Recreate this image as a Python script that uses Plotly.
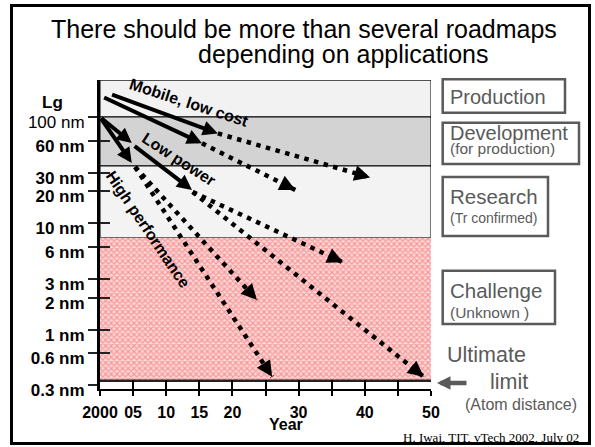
import math
import plotly.graph_objects as go

# ---------------- data ----------------
band_names = ["Production", "Development", "Research", "Challenge"]
band_top_nm = [222, 100, 34.6, 7.3]
band_bottom_nm = [100, 34.6, 7.3, 0.33]
band_fill = ["#f2f2f2", "#d3d3d3", "#f3f3f3", None]

ultimate_limit_nm = 0.33
year_range = [2000, 2050]
lg_range_log = [-0.559, 2.348]

y_tick_nm = [100, 60, 30, 20, 10, 6, 3, 2, 1, 0.6, 0.3]
y_tick_text = ["100 nm", "60 nm", "30 nm", "20 nm", "10 nm", "6 nm",
               "3 nm", "2 nm", "1 nm", "0.6 nm", "0.3 nm"]
y_tick_bold = [False, True, True, True, True, True, True, True, True, True, True]
y_inner_tick_nm = [60, 30, 20, 10, 6, 3, 2, 1, 0.6]

x_tick_years = [2000, 2005, 2010, 2015, 2020, 2025, 2030, 2035, 2040, 2045, 2050]
x_label_years = [2000, 2005, 2010, 2015, 2020, 2030, 2040, 2050]
x_label_text = ["2000", "05", "10", "15", "20", "30", "40", "50"]

# solid (established) roadmap arrows: [start_year, end_year], [start_nm, end_nm]
mobile_cost_years = [2001.6, 2017.8]
mobile_cost_nm = [164, 70]
mobile_years = [2000.4, 2015.4]
mobile_nm = [155, 56.6]
lowpower_start_years = [2000, 2004.8]
lowpower_start_nm = [100, 57]
highperf_start_years = [2000, 2004.8]
highperf_start_nm = [100, 37]
lowpower_years = [2005.0, 2013.9]
lowpower_nm = [54.6, 20.6]

# dotted (projected) roadmap arrows
mobile_cost_proj_years = [2017.8, 2040.8]
mobile_cost_proj_nm = [70, 27]
mobile_proj_years = [2015.4, 2029.5]
mobile_proj_nm = [56.6, 20.6]
lowpower_proj1_years = [2014.0, 2036.7]
lowpower_proj1_nm = [19.7, 4.3]
lowpower_proj2_years = [2014.0, 2048.9]
lowpower_proj2_nm = [19.7, 0.36]
highperf_proj1_years = [2005.3, 2023.7]
highperf_proj1_nm = [33.9, 1.9]
highperf_proj2_years = [2005.3, 2026.0]
highperf_proj2_nm = [33.9, 0.36]

solid_arrows = [
    (mobile_cost_years, mobile_cost_nm),
    (mobile_years, mobile_nm),
    (lowpower_start_years, lowpower_start_nm),
    (highperf_start_years, highperf_start_nm),
    (lowpower_years, lowpower_nm),
]
dotted_arrows = [
    (mobile_cost_proj_years, mobile_cost_proj_nm),
    (mobile_proj_years, mobile_proj_nm),
    (lowpower_proj1_years, lowpower_proj1_nm),
    (lowpower_proj2_years, lowpower_proj2_nm),
    (highperf_proj1_years, highperf_proj1_nm),
    (highperf_proj2_years, highperf_proj2_nm),
]

# ---------------- layout geometry ----------------
W, H = 595, 447
ML, MR, MT, MB = 100, 164, 80, 58
PW = W - ML - MR
PH = H - MT - MB
FONT = "Liberation Sans, Arial, sans-serif"
GRAY = "#5a5a5a"


def paper(px, py):
    return (px - ML) / PW, (H - MB - py) / PH


fig = go.Figure()

# bands
for name, top, bot, col in zip(band_names, band_top_nm, band_bottom_nm, band_fill):
    xs = [year_range[0], year_range[1], year_range[1], year_range[0], year_range[0]]
    ys = [top, top, bot, bot, top]
    if col is None:
        fig.add_trace(go.Scatter(
            x=xs, y=ys, mode="lines", fill="toself",
            fillcolor="#fcc4c4",
            fillpattern=dict(shape="x", fgcolor="#e85a5a", bgcolor="#ffd6d6",
                             size=4, solidity=0.5),
            line=dict(width=0), hoverinfo="skip", name=name))
    else:
        fig.add_trace(go.Scatter(
            x=xs, y=ys, mode="lines", fill="toself", fillcolor=col,
            line=dict(color="black", width=1), hoverinfo="skip", name=name))

# ultimate limit line
fig.add_trace(go.Scatter(x=year_range, y=[ultimate_limit_nm] * 2, mode="lines",
                         line=dict(color="#222222", width=2.5), hoverinfo="skip"))

# dotted projection lines
for yrs, nm in dotted_arrows:
    fig.add_trace(go.Scatter(x=yrs, y=nm, mode="lines",
                             line=dict(color="black", width=4.5, dash="4.5px,5.5px"),
                             hoverinfo="skip"))

# dummy trace for overlay axes (inner tick marks)
fig.add_trace(go.Scatter(x=[None], y=[None], xaxis="x2", yaxis="y2",
                         hoverinfo="skip"))

annotations = []
ppy = PW / (year_range[1] - year_range[0])
ppd = PH / (lg_range_log[1] - lg_range_log[0])

for yrs, nm in solid_arrows:
    annotations.append(dict(
        x=yrs[1], y=math.log10(nm[1]), ax=yrs[0], ay=math.log10(nm[0]),
        xref="x", yref="y", axref="x", ayref="y", text="", showarrow=True,
        arrowhead=2, arrowsize=0.75, arrowwidth=4, arrowcolor="black", standoff=0))

HEAD = 14
for yrs, nm in dotted_arrows:
    l0, l1 = math.log10(nm[0]), math.log10(nm[1])
    dx = (yrs[1] - yrs[0]) * ppy
    dy = (l1 - l0) * ppd
    f = HEAD / math.hypot(dx, dy)
    annotations.append(dict(
        x=yrs[1], y=l1, ax=yrs[1] - (yrs[1] - yrs[0]) * f, ay=l1 - (l1 - l0) * f,
        xref="x", yref="y", axref="x", ayref="y", text="", showarrow=True,
        arrowhead=2, arrowsize=0.7, arrowwidth=4.5, arrowcolor="black", standoff=0))


def text_at(px, py, text, size, color="black", bold=False, angle=0,
            xanchor="center", family=FONT):
    xp, yp = paper(px, py)
    if bold:
        text = "<b>" + text + "</b>"
    annotations.append(dict(x=xp, y=yp, xref="paper", yref="paper", text=text,
                            showarrow=False, xanchor=xanchor, yanchor="middle",
                            textangle=angle,
                            font=dict(family=family, size=size, color=color)))


# title
text_at(303.5, 29, "There should be more than several roadmaps", 25)
text_at(343.5, 54, "depending on applications", 25)

# arrow labels
text_at(188.5, 102.5, "Mobile, low cost", 16, bold=True, angle=18)
text_at(179, 159.5, "Low power", 16, bold=True, angle=33)
text_at(148.3, 229, "High performance", 16, bold=True, angle=56)

# axis captions
text_at(52.5, 102, "Lg", 17, bold=True)
text_at(286, 424, "Year", 16, bold=True)

# stage labels
text_at(448, 97, "Production", 20, color=GRAY, xanchor="left")
text_at(448, 132.5, "Development", 20, color=GRAY, xanchor="left")
text_at(448, 148.5, "(for production)", 15.5, color=GRAY, xanchor="left")
text_at(448, 196, "Research", 20.5, color=GRAY, xanchor="left")
text_at(448, 218, "(Tr confirmed)", 14, color=GRAY, xanchor="left")
text_at(448, 290, "Challenge", 20.5, color=GRAY, xanchor="left")
text_at(448, 312, "(Unknown )", 15.5, color=GRAY, xanchor="left")
text_at(486.5, 355, "Ultimate", 21.5, color=GRAY)
text_at(509, 382, "limit", 21.5, color=GRAY)
text_at(521, 404, "(Atom distance)", 16, color=GRAY)

# footer
xp, yp = paper(581, 437)
annotations.append(dict(x=xp, y=yp, xref="paper", yref="paper",
                        text="H. Iwai, TIT, vTech 2002, July 02", showarrow=False,
                        xanchor="right", yanchor="middle",
                        font=dict(family="Liberation Serif, Times New Roman, serif",
                                  size=13, color="black")))

# gray "limit" arrow
xp, yp = paper(437, 383)
annotations.append(dict(x=xp, y=yp, xref="paper", yref="paper", text="",
                        showarrow=True, ax=31, ay=0, arrowhead=2, arrowsize=0.6,
                        arrowwidth=4.5, arrowcolor=GRAY, standoff=0))

shapes = []


def rect(x0, y0, x1, y1, color, width):
    a0, b0 = paper(x0, y0)
    a1, b1 = paper(x1, y1)
    shapes.append(dict(type="rect", xref="paper", yref="paper", x0=a0, y0=b0,
                       x1=a1, y1=b1, line=dict(color=color, width=width),
                       fillcolor="rgba(0,0,0,0)"))


rect(11.5, 5.5, 589.5, 443.5, "black", 3)
rect(442.7, 79.3, 565, 112.7, GRAY, 2.5)
rect(442.7, 122.7, 579, 164, GRAY, 2.5)
rect(442.7, 177, 548, 236, GRAY, 2.5)
rect(442.7, 270.7, 555, 324, GRAY, 2.5)

x_ticktext = [x_label_text[x_label_years.index(y)] if y in x_label_years else ""
              for y in x_tick_years]
y_ticktext = ["<b>" + t + "</b>" if b else t for t, b in zip(y_tick_text, y_tick_bold)]

fig.update_layout(
    width=W, height=H, margin=dict(l=ML, r=MR, t=MT, b=MB, pad=0),
    paper_bgcolor="white", plot_bgcolor="white", showlegend=False,
    annotations=annotations, shapes=shapes,
    xaxis=dict(range=year_range, tickvals=x_tick_years, ticktext=x_ticktext,
               ticks="outside", ticklen=5, tickwidth=1.5, tickcolor="black",
               showline=True, linewidth=2, linecolor="black",
               showgrid=False, zeroline=False, ticklabelstandoff=3,
               tickfont=dict(family=FONT, size=16, color="black", weight="bold")),
    yaxis=dict(type="log", range=lg_range_log, tickvals=y_tick_nm, ticktext=y_ticktext,
               ticks="outside", ticklen=9, tickwidth=1.5, tickcolor="#222",
               showline=True, linewidth=3, linecolor="black",
               showgrid=False, zeroline=False, ticklabelshift=5,
               tickfont=dict(family=FONT, size=17, color="black")),
    xaxis2=dict(range=year_range, overlaying="x", anchor="y2", side="bottom",
                tickvals=x_tick_years, ticks="inside", ticklen=9, tickwidth=1.5,
                tickcolor="black", showticklabels=False, showline=False,
                showgrid=False, zeroline=False),
    yaxis2=dict(type="log", range=lg_range_log, overlaying="y", anchor="x2",
                side="left", tickvals=y_inner_tick_nm, ticks="inside", ticklen=10,
                tickwidth=1.5, tickcolor="#222", showticklabels=False,
                showline=False, showgrid=False, zeroline=False),
)

fig.write_html("out.html", config={"displayModeBar": False},
               post_script="document.body.style.margin='0';"
                           "document.body.style.overflow='hidden';")
